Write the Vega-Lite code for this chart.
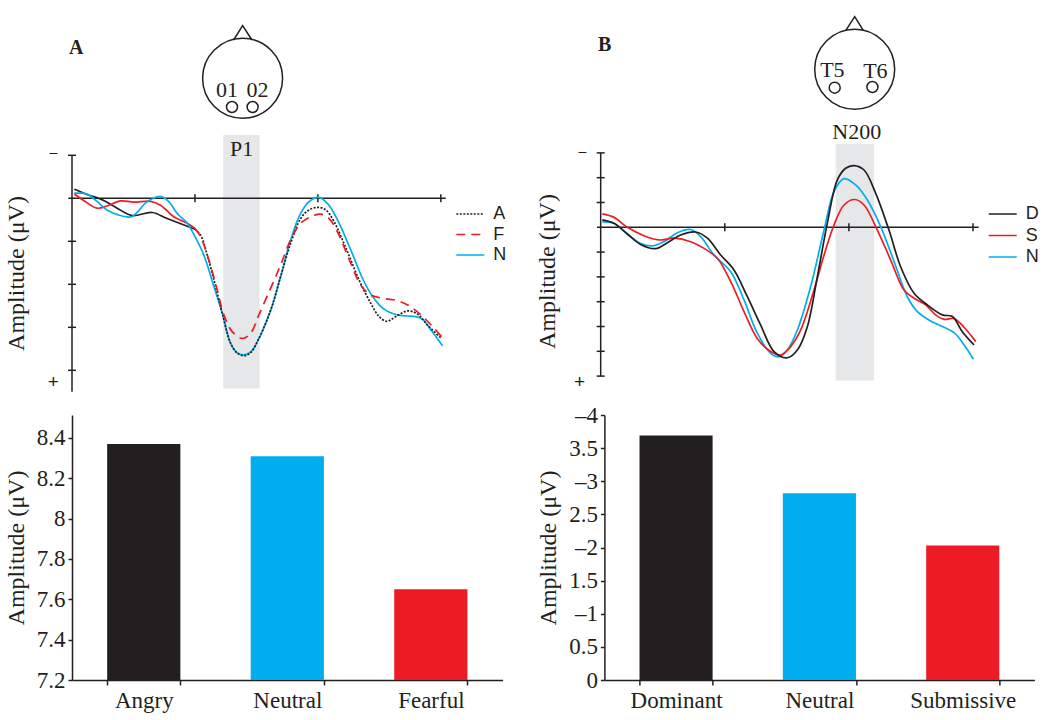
{
"$schema":"https://vega.github.io/schema/vega-lite/v6.json",
"padding":{"left":4,"top":10,"right":5,"bottom":5},
"background":"white",
"columns":2,
"bounds":"flush",
"spacing":{"row":20,"column":101.4},
"resolve":{"scale":{"color":"independent","strokeDash":"independent"},"legend":{"color":"independent","strokeDash":"independent"}},
"config":{"view":{"stroke":null},"font":"Liberation Serif","text":{"font":"Liberation Serif","color":"#231f20"},"axis":{"labelFont":"Liberation Serif","titleFont":"Liberation Serif","labelColor":"#231f20","titleColor":"#231f20","titleFontWeight":"normal","grid":false}},
"datasets":{
"head_a":[{"part":"scalp","hx":0,"hy":0},{"part":"site","hx":-10.6,"hy":28.7},{"part":"site","hx":10,"hy":28.7}],
"nose_a":[{"hx":-9,"hy":-38.3},{"hx":0,"hy":-52.6},{"hx":9.4,"hy":-38.3}],
"head_text_a":[{"hx":-15.6,"hy":11.7,"label":"01"},{"hx":15,"hy":11.7,"label":"02"}],
"head_b":[{"part":"scalp","hx":0,"hy":0},{"part":"site","hx":-20,"hy":18.4},{"part":"site","hx":17.7,"hy":17.7}],
"nose_b":[{"hx":-9,"hy":-38.6},{"hx":0,"hy":-52.6},{"hx":8.7,"hy":-38.6}],
"head_text_b":[{"hx":-22.3,"hy":0.7,"label":"T5"},{"hx":20.7,"hy":1.4,"label":"T6"}],
"erp_a":[
{"series":"N","part":"late","t":1.9,"amp":-0.12},{"series":"N","part":"late","t":12.2,"amp":-0.10},{"series":"N","part":"late","t":19,"amp":0.04},{"series":"N","part":"late","t":28.5,"amp":0.27},{"series":"N","part":"late","t":39.4,"amp":0.40},{"series":"N","part":"late","t":48.1,"amp":0.43},{"series":"N","part":"late","t":52.9,"amp":0.33},{"series":"N","part":"late","t":61.1,"amp":0.08},{"series":"N","part":"late","t":72,"amp":-0.04},{"series":"N","part":"late","t":78.8,"amp":0.08},{"series":"N","part":"late","t":85.5,"amp":0.35},{"series":"N","part":"late","t":93.7,"amp":0.58},{"series":"N","part":"late","t":100,"amp":0.89},{"series":"N","part":"late","t":107.2,"amp":1.32},{"series":"N","part":"late","t":115.4,"amp":2.05},{"series":"N","part":"late","t":122.2,"amp":2.67},{"series":"N","part":"late","t":129,"amp":3.37},{"series":"N","part":"late","t":134.4,"amp":3.59},{"series":"N","part":"late","t":139.8,"amp":3.64},{"series":"N","part":"late","t":145.3,"amp":3.57},{"series":"N","part":"late","t":152,"amp":3.26},{"series":"N","part":"late","t":161.6,"amp":2.60},{"series":"N","part":"late","t":169.7,"amp":1.82},{"series":"N","part":"late","t":177.8,"amp":0.97},{"series":"N","part":"late","t":186,"amp":0.35},{"series":"N","part":"late","t":192.8,"amp":0.08},{"series":"N","part":"late","t":200.4,"amp":-0.02},{"series":"N","part":"late","t":207.7,"amp":0.12},{"series":"N","part":"late","t":215.9,"amp":0.50},{"series":"N","part":"late","t":226.7,"amp":1.20},{"series":"N","part":"late","t":237.6,"amp":1.94},{"series":"N","part":"late","t":245.7,"amp":2.33},{"series":"N","part":"late","t":253.9,"amp":2.58},{"series":"N","part":"late","t":264.7,"amp":2.71},{"series":"N","part":"late","t":283.8,"amp":2.79},{"series":"N","part":"late","t":291.9,"amp":3.06},{"series":"N","part":"late","t":301.4,"amp":3.43},
{"series":"A","part":"early","t":1.9,"amp":-0.21},{"series":"A","part":"early","t":12.2,"amp":-0.09},{"series":"A","part":"early","t":25.8,"amp":0.05},{"series":"A","part":"early","t":36.7,"amp":0.23},{"series":"A","part":"early","t":48.9,"amp":0.40},{"series":"A","part":"early","t":65.2,"amp":0.33},{"series":"A","part":"early","t":77.4,"amp":0.47},{"series":"A","part":"early","t":100,"amp":0.72},
{"series":"A","part":"late","t":100,"amp":0.72},{"series":"A","part":"late","t":104.5,"amp":0.85},{"series":"A","part":"late","t":110,"amp":1.32},{"series":"A","part":"late","t":116.8,"amp":2.05},{"series":"A","part":"late","t":122.2,"amp":2.67},{"series":"A","part":"late","t":129,"amp":3.37},{"series":"A","part":"late","t":134.4,"amp":3.60},{"series":"A","part":"late","t":139.8,"amp":3.66},{"series":"A","part":"late","t":145.3,"amp":3.59},{"series":"A","part":"late","t":152,"amp":3.26},{"series":"A","part":"late","t":161.6,"amp":2.60},{"series":"A","part":"late","t":169.7,"amp":1.82},{"series":"A","part":"late","t":177.8,"amp":1.05},{"series":"A","part":"late","t":186,"amp":0.47},{"series":"A","part":"late","t":192.8,"amp":0.27},{"series":"A","part":"late","t":200.4,"amp":0.21},{"series":"A","part":"late","t":206.4,"amp":0.27},{"series":"A","part":"late","t":213.1,"amp":0.54},{"series":"A","part":"late","t":224,"amp":1.24},{"series":"A","part":"late","t":233.5,"amp":1.90},{"series":"A","part":"late","t":243,"amp":2.44},{"series":"A","part":"late","t":249.8,"amp":2.75},{"series":"A","part":"late","t":256,"amp":2.86},{"series":"A","part":"late","t":263.4,"amp":2.75},{"series":"A","part":"late","t":272.9,"amp":2.62},{"series":"A","part":"late","t":281,"amp":2.69},{"series":"A","part":"late","t":289.2,"amp":2.95},{"series":"A","part":"late","t":300.6,"amp":3.26},
{"series":"F","part":"early","t":1.9,"amp":-0.10},{"series":"F","part":"early","t":9.5,"amp":0.05},{"series":"F","part":"early","t":20.4,"amp":0.23},{"series":"F","part":"early","t":28.5,"amp":0.18},{"series":"F","part":"early","t":39.4,"amp":0.06},{"series":"F","part":"early","t":50.2,"amp":0.09},{"series":"F","part":"early","t":63.8,"amp":0.07},{"series":"F","part":"early","t":72,"amp":0.16},{"series":"F","part":"early","t":82.8,"amp":0.43},{"series":"F","part":"early","t":93.7,"amp":0.58},{"series":"F","part":"early","t":100,"amp":0.70},
{"series":"F","part":"late","t":100,"amp":0.70},{"series":"F","part":"late","t":104.5,"amp":0.89},{"series":"F","part":"late","t":111.3,"amp":1.43},{"series":"F","part":"late","t":118.1,"amp":2.13},{"series":"F","part":"late","t":123.5,"amp":2.71},{"series":"F","part":"late","t":130.3,"amp":3.10},{"series":"F","part":"late","t":138.5,"amp":3.26},{"series":"F","part":"late","t":145.3,"amp":3.14},{"series":"F","part":"late","t":152,"amp":2.71},{"series":"F","part":"late","t":161.6,"amp":2.09},{"series":"F","part":"late","t":169.7,"amp":1.55},{"series":"F","part":"late","t":177.8,"amp":0.97},{"series":"F","part":"late","t":186,"amp":0.58},{"series":"F","part":"late","t":194.1,"amp":0.43},{"series":"F","part":"late","t":202.3,"amp":0.37},{"series":"F","part":"late","t":209.1,"amp":0.47},{"series":"F","part":"late","t":215.9,"amp":0.78},{"series":"F","part":"late","t":226.7,"amp":1.51},{"series":"F","part":"late","t":234.9,"amp":2.02},{"series":"F","part":"late","t":243,"amp":2.25},{"series":"F","part":"late","t":253.9,"amp":2.33},{"series":"F","part":"late","t":264.7,"amp":2.38},{"series":"F","part":"late","t":274.2,"amp":2.50},{"series":"F","part":"late","t":283.7,"amp":2.71},{"series":"F","part":"late","t":293.2,"amp":2.98},{"series":"F","part":"late","t":300.6,"amp":3.22}
],
"erp_b":[
{"series":"N","t":1.3,"amp":-0.22},{"series":"N","t":10.7,"amp":-0.16},{"series":"N","t":21.5,"amp":0.27},{"series":"N","t":32.2,"amp":0.65},{"series":"N","t":41.6,"amp":0.75},{"series":"N","t":51,"amp":0.58},{"series":"N","t":61.8,"amp":0.22},{"series":"N","t":72.5,"amp":0.09},{"series":"N","t":80.6,"amp":0.38},{"series":"N","t":91.3,"amp":1.12},{"series":"N","t":104.8,"amp":1.79},{"series":"N","t":115.5,"amp":2.93},{"series":"N","t":126.2,"amp":4.27},{"series":"N","t":137,"amp":5.08},{"series":"N","t":143.7,"amp":5.22},{"series":"N","t":150.4,"amp":4.95},{"series":"N","t":158.5,"amp":4.14},{"series":"N","t":169.2,"amp":2.39},{"series":"N","t":180,"amp":0.11},{"series":"N","t":188,"amp":-1.44},{"series":"N","t":196.1,"amp":-1.96},{"series":"N","t":205.5,"amp":-1.71},{"series":"N","t":214.9,"amp":-1.10},{"series":"N","t":225.6,"amp":-0.03},{"series":"N","t":236.4,"amp":1.38},{"series":"N","t":247.1,"amp":2.80},{"series":"N","t":255.2,"amp":3.40},{"series":"N","t":265.9,"amp":3.78},{"series":"N","t":284.7,"amp":4.25},{"series":"N","t":292.8,"amp":4.74},{"series":"N","t":300.3,"amp":5.32},
{"series":"S","t":1.3,"amp":-0.54},{"series":"S","t":10.7,"amp":-0.40},{"series":"S","t":21.5,"amp":0},{"series":"S","t":34.9,"amp":0.34},{"series":"S","t":47,"amp":0.51},{"series":"S","t":59.1,"amp":0.44},{"series":"S","t":72.5,"amp":0.58},{"series":"S","t":83.3,"amp":0.85},{"series":"S","t":94,"amp":1.25},{"series":"S","t":104.8,"amp":2.19},{"series":"S","t":115.5,"amp":3.40},{"series":"S","t":126.2,"amp":4.48},{"series":"S","t":137,"amp":5.01},{"series":"S","t":145,"amp":5.15},{"series":"S","t":153.1,"amp":4.81},{"series":"S","t":161.2,"amp":4.14},{"series":"S","t":171.9,"amp":2.53},{"series":"S","t":180,"amp":1.12},{"series":"S","t":188,"amp":-0.09},{"series":"S","t":196.1,"amp":-0.90},{"series":"S","t":204.7,"amp":-1.12},{"series":"S","t":212.2,"amp":-0.90},{"series":"S","t":222.9,"amp":0.11},{"series":"S","t":233.7,"amp":1.32},{"series":"S","t":244.4,"amp":2.53},{"series":"S","t":252.5,"amp":2.86},{"series":"S","t":261.9,"amp":3.13},{"series":"S","t":269.9,"amp":3.53},{"series":"S","t":276.7,"amp":3.71},{"series":"S","t":284.7,"amp":3.68},{"series":"S","t":292.8,"amp":4.03},{"series":"S","t":302.2,"amp":4.61},
{"series":"D","t":1.3,"amp":-0.30},{"series":"D","t":10.7,"amp":-0.16},{"series":"D","t":21.5,"amp":0.27},{"series":"D","t":32.2,"amp":0.69},{"series":"D","t":44.3,"amp":0.86},{"series":"D","t":53.7,"amp":0.62},{"series":"D","t":64.5,"amp":0.31},{"series":"D","t":76.6,"amp":0.19},{"series":"D","t":86,"amp":0.44},{"series":"D","t":96.7,"amp":1.12},{"series":"D","t":107.4,"amp":1.72},{"series":"D","t":118.2,"amp":2.80},{"series":"D","t":128.9,"amp":3.94},{"series":"D","t":139.7,"amp":5.01},{"series":"D","t":150.4,"amp":5.26},{"series":"D","t":158.5,"amp":4.95},{"series":"D","t":166.5,"amp":4.01},{"series":"D","t":174.6,"amp":1.99},{"series":"D","t":182.6,"amp":-0.16},{"series":"D","t":190.7,"amp":-1.91},{"series":"D","t":197.4,"amp":-2.38},{"series":"D","t":204.1,"amp":-2.49},{"series":"D","t":212.2,"amp":-2.31},{"series":"D","t":221.6,"amp":-1.37},{"series":"D","t":232.3,"amp":0.11},{"series":"D","t":241.7,"amp":1.59},{"series":"D","t":252.5,"amp":2.66},{"series":"D","t":263.2,"amp":3.13},{"series":"D","t":275.3,"amp":3.53},{"series":"D","t":283.4,"amp":3.60},{"series":"D","t":291.4,"amp":4.21},{"series":"D","t":300.8,"amp":4.74}
],
"bars_a":[{"emotion":"Angry","amp":8.37},{"emotion":"Neutral","amp":8.31},{"emotion":"Fearful","amp":7.65}],
"bars_b":[{"posture":"Dominant","amp":-3.69},{"posture":"Neutral","amp":-2.82},{"posture":"Submissive","amp":-2.03}]
},
"concat":[
{"width":375,"height":100,
 "encoding":{"x":{"field":"hx","type":"quantitative","axis":null,"scale":{"domain":[-170.6,204.4],"nice":false,"zero":false}},"y":{"field":"hy","type":"quantitative","axis":null,"scale":{"domain":[-68.3,31.7],"reverse":true,"nice":false,"zero":false}}},
 "layer":[
 {"data":{"name":"head_a"},"mark":{"type":"point","filled":false,"stroke":"#231f20","strokeWidth":1.5,"opacity":1},"encoding":{"size":{"field":"part","type":"nominal","legend":null,"scale":{"domain":["scalp","site"],"range":[6400,121]}}}},
 {"data":{"name":"nose_a"},"mark":{"type":"line","stroke":"#231f20","strokeWidth":1.5},"encoding":{}},
 {"data":{"name":"head_text_a"},"mark":{"type":"text","fontSize":22},"encoding":{"text":{"field":"label"}}},
 {"data":{"values":[{"hx":-166.3,"hy":-30.3,"label":"A"}]},"mark":{"type":"text","fontSize":20,"fontWeight":"bold"},"encoding":{"text":{"field":"label"}}}
 ]},
{"width":375,"height":100,
 "encoding":{"x":{"field":"hx","type":"quantitative","axis":null,"scale":{"domain":[-250.3,124.7],"nice":false,"zero":false}},"y":{"field":"hy","type":"quantitative","axis":null,"scale":{"domain":[-59.3,40.7],"reverse":true,"nice":false,"zero":false}}},
 "layer":[
 {"data":{"name":"head_b"},"mark":{"type":"point","filled":false,"stroke":"#231f20","strokeWidth":1.5,"opacity":1},"encoding":{"size":{"field":"part","type":"nominal","legend":null,"scale":{"domain":["scalp","site"],"range":[6400,121]}}}},
 {"data":{"name":"nose_b"},"mark":{"type":"line","stroke":"#231f20","strokeWidth":1.5},"encoding":{}},
 {"data":{"name":"head_text_b"},"mark":{"type":"text","fontSize":22},"encoding":{"text":{"field":"label"}}},
 {"data":{"values":[{"hx":-250,"hy":-24.3,"label":"B"}]},"mark":{"type":"text","fontSize":20,"fontWeight":"bold"},"encoding":{"text":{"field":"label"}}}
 ]},
{"width":375,"height":265,
 "encoding":{"x":{"field":"t","type":"quantitative","axis":null,"scale":{"domain":[0,305],"nice":false,"zero":false}},"y":{"field":"amp","type":"quantitative","scale":{"domain":[-1.588,4.574],"reverse":true,"nice":false,"zero":false},"axis":{"title":"Amplitude (μV)","titleFontSize":24,"domain":false,"ticks":false,"labels":false,"titlePadding":44,"titleY":143}}},
 "layer":[
 {"data":{"values":[{"t":123,"t2":152.6,"amp":-1.47,"amp2":4.42}]},"mark":{"type":"rect","color":"#e6e7e8"},"encoding":{"x2":{"field":"t2"},"y2":{"field":"amp2"}}},
 {"data":{"values":[{"t":0,"amp":-1,"amp2":4.5}]},"mark":{"type":"rule","color":"#231f20","strokeWidth":1.5},"encoding":{"y2":{"field":"amp2"}}},
 {"data":{"values":[{"t":-3,"t2":304,"amp":0}]},"mark":{"type":"rule","color":"#231f20","strokeWidth":1.5},"encoding":{"x2":{"field":"t2"}}},
 {"data":{"values":[{"t":0,"amp":-1},{"t":0,"amp":1},{"t":0,"amp":2},{"t":0,"amp":3},{"t":0,"amp":4}]},"mark":{"type":"tick","orient":"horizontal","size":8,"thickness":1.5,"color":"#231f20","opacity":1},"encoding":{}},
 {"data":{"values":[{"t":100,"amp":0},{"t":200,"amp":0},{"t":300,"amp":0}]},"mark":{"type":"tick","orient":"vertical","size":8,"thickness":1.5,"color":"#231f20","opacity":1},"encoding":{}},
 {"data":{"values":[{"t":137.9,"amp":-1.15,"label":"P1"}]},"mark":{"type":"text","fontSize":22},"encoding":{"text":{"field":"label"}}},
 {"data":{"values":[{"t":-15.2,"amp":-1.06,"label":"–"}]},"mark":{"type":"text","fontSize":14,"font":"Liberation Sans"},"encoding":{"text":{"field":"label"}}},
 {"data":{"values":[{"t":-15.2,"amp":4.27,"label":"+"}]},"mark":{"type":"text","fontSize":19,"font":"Liberation Sans"},"encoding":{"text":{"field":"label"}}},
 {"data":{"name":"erp_a"},"transform":[{"filter":"datum.part=='early'"}],"mark":{"type":"line","interpolate":"catmull-rom","strokeWidth":1.7},"encoding":{"color":{"field":"series","type":"nominal","scale":{"domain":["A","F","N"],"range":["#231f20","#ed1c24","#00aeef"]},"legend":{"title":null,"orient":"none","legendX":383.3,"legendY":77,"symbolType":"stroke","symbolSize":784,"symbolStrokeWidth":1.7,"labelFont":"Liberation Sans","labelFontSize":18,"labelColor":"#231f20","labelOffset":8,"clipHeight":14,"rowPadding":2.5}}}},
 {"data":{"name":"erp_a"},"transform":[{"filter":"datum.part=='late'"}],"mark":{"type":"line","interpolate":"catmull-rom","strokeWidth":1.7},"encoding":{"color":{"field":"series","type":"nominal","scale":{"domain":["A","F","N"],"range":["#231f20","#ed1c24","#00aeef"]},"legend":{"title":null,"orient":"none","legendX":383.3,"legendY":77,"symbolType":"stroke","symbolSize":784,"symbolStrokeWidth":1.7,"labelFont":"Liberation Sans","labelFontSize":18,"labelColor":"#231f20","labelOffset":8,"clipHeight":14,"rowPadding":2.5}},"strokeDash":{"field":"series","type":"nominal","scale":{"domain":["A","F","N"],"range":[[2,1.5],[9,6],[1,0]]},"legend":{"title":null,"orient":"none","legendX":383.3,"legendY":77,"symbolType":"stroke","symbolSize":784,"symbolStrokeWidth":1.7,"labelFont":"Liberation Sans","labelFontSize":18,"labelColor":"#231f20","labelOffset":8,"clipHeight":14,"rowPadding":2.5}}}}
 ]},
{"width":374.8,"height":265,
 "encoding":{"x":{"field":"t","type":"quantitative","axis":null,"scale":{"domain":[3,305],"nice":false,"zero":false}},"y":{"field":"amp","type":"quantitative","scale":{"domain":[-3.923,6.762],"reverse":true,"nice":false,"zero":false},"axis":{"title":"Amplitude (μV)","titleFontSize":24,"domain":false,"ticks":false,"labels":false,"titlePadding":45,"titleY":141}}},
 "layer":[
 {"data":{"values":[{"t":189.4,"t2":220.3,"amp":-3.36,"amp2":6.18}]},"mark":{"type":"rect","color":"#e6e7e8"},"encoding":{"x2":{"field":"t2"},"y2":{"field":"amp2"}}},
 {"data":{"values":[{"t":0,"amp":-3,"amp2":6}]},"mark":{"type":"rule","color":"#231f20","strokeWidth":1.5},"encoding":{"y2":{"field":"amp2"}}},
 {"data":{"values":[{"t":-3,"t2":304.5,"amp":0}]},"mark":{"type":"rule","color":"#231f20","strokeWidth":1.5},"encoding":{"x2":{"field":"t2"}}},
 {"data":{"values":[{"t":0,"amp":-3},{"t":0,"amp":-2},{"t":0,"amp":-1},{"t":0,"amp":1},{"t":0,"amp":2},{"t":0,"amp":3},{"t":0,"amp":4},{"t":0,"amp":5},{"t":0,"amp":6}]},"mark":{"type":"tick","orient":"horizontal","size":8,"thickness":1.5,"color":"#231f20","opacity":1},"encoding":{}},
 {"data":{"values":[{"t":100,"amp":0},{"t":200,"amp":0},{"t":300,"amp":0}]},"mark":{"type":"tick","orient":"vertical","size":8,"thickness":1.5,"color":"#231f20","opacity":1},"encoding":{}},
 {"data":{"values":[{"t":206.3,"amp":-3.84,"label":"N200"}]},"mark":{"type":"text","fontSize":22},"encoding":{"text":{"field":"label"}}},
 {"data":{"values":[{"t":-14.7,"amp":-3.04,"label":"–"}]},"mark":{"type":"text","fontSize":14,"font":"Liberation Sans"},"encoding":{"text":{"field":"label"}}},
 {"data":{"values":[{"t":-17,"amp":6.24,"label":"+"}]},"mark":{"type":"text","fontSize":19,"font":"Liberation Sans"},"encoding":{"text":{"field":"label"}}},
 {"data":{"name":"erp_b"},"mark":{"type":"line","interpolate":"catmull-rom","strokeWidth":1.7},"encoding":{"color":{"field":"series","type":"nominal","scale":{"domain":["D","S","N"],"range":["#231f20","#ed1c24","#00aeef"]},"legend":{"title":null,"orient":"none","legendX":383.3,"legendY":77,"symbolType":"stroke","symbolSize":784,"symbolStrokeWidth":1.7,"labelFont":"Liberation Sans","labelFontSize":18,"labelColor":"#231f20","labelOffset":8,"clipHeight":14,"rowPadding":3.5}}}}
 ]},
{"width":430.6,"height":265,
 "data":{"name":"bars_a"},
 "mark":{"type":"bar","clip":true},
 "encoding":{
 "x":{"field":"emotion","type":"nominal","sort":null,"scale":{"paddingInner":0.49,"paddingOuter":0.245},"axis":{"title":null,"labelAngle":0,"labelFontSize":23,"labelPadding":4,"tickBand":"extent","tickSize":5,"tickColor":"#231f20","domainColor":"#231f20","domainWidth":1.5,"tickWidth":1.5}},
 "y":{"field":"amp","type":"quantitative","scale":{"domain":[7.2,8.514],"nice":false,"zero":false},"axis":{"title":"Amplitude (μV)","titleFontSize":24,"titlePadding":8,"labelFontSize":23,"labelPadding":3,"values":[7.2,7.4,7.6,7.8,8,8.2,8.4],"labelExpr":"format(datum.value,'.1f')=='8.0'?'8':format(datum.value,'.1f')","tickSize":4,"tickColor":"#231f20","domainColor":"#231f20","domainWidth":1.5,"tickWidth":1.5}},
 "color":{"field":"emotion","type":"nominal","legend":null,"scale":{"domain":["Angry","Neutral","Fearful"],"range":["#231f20","#00aeef","#ed1c24"]}}
 }},
{"width":430,"height":265,
 "data":{"name":"bars_b"},
 "mark":{"type":"bar"},
 "encoding":{
 "x":{"field":"posture","type":"nominal","sort":null,"scale":{"paddingInner":0.49,"paddingOuter":0.245},"axis":{"title":null,"labelAngle":0,"labelFontSize":23,"labelPadding":4,"tickBand":"extent","tickSize":5,"tickColor":"#231f20","domainColor":"#231f20","domainWidth":1.5,"tickWidth":1.5}},
 "y":{"field":"amp","type":"quantitative","scale":{"domain":[0,-4],"nice":false,"zero":false},"axis":{"title":"Amplitude (μV)","titleFontSize":24,"titlePadding":8,"labelFontSize":23,"labelPadding":3,"values":[0,-0.5,-1,-1.5,-2,-2.5,-3,-3.5,-4],"labelExpr":"datum.value==0?'0':(datum.value%1==0?'–'+abs(datum.value):format(abs(datum.value),'.1f'))","tickSize":4,"tickColor":"#231f20","domainColor":"#231f20","domainWidth":1.5,"tickWidth":1.5}},
 "color":{"field":"posture","type":"nominal","legend":null,"scale":{"domain":["Dominant","Neutral","Submissive"],"range":["#231f20","#00aeef","#ed1c24"]}}
 }}
]
}
